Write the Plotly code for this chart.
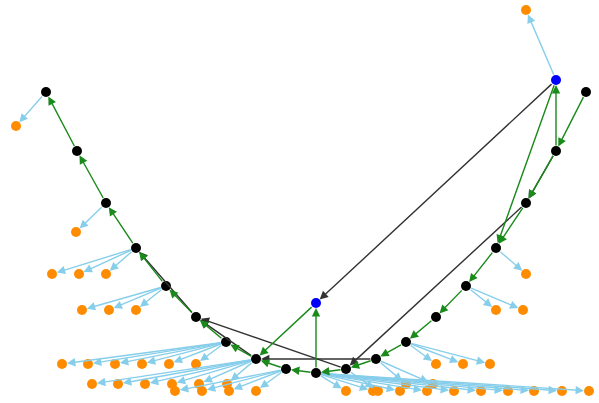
import plotly.graph_objects as go

# ---- node data (pixel-like layout coordinates) ----
path_x = [46, 77, 106, 136, 166, 196, 226, 256, 286, 316, 346, 376, 406, 436, 466, 496, 526, 556, 586]
path_y = [92, 151, 203, 248, 286, 317, 342, 359, 369, 373, 369, 359, 342, 317, 286, 248, 203, 151, 92]

blue_x = [316, 556]
blue_y = [303, 80]

orange_x = [16, 76, 52, 79, 106, 82, 109, 136,
            62, 88, 115, 142, 169, 196,
            92, 118, 145, 172, 199, 227,
            175, 202, 229, 256,
            526, 526, 496, 523, 436, 463, 490, 406, 433,
            346, 373, 400, 427, 454, 481, 508, 534, 562, 589, 378]
orange_y = [126, 232, 274, 274, 274, 310, 310, 310,
            364, 364, 364, 364, 364, 364,
            384, 384, 384, 384, 384, 384,
            391, 391, 391, 391,
            10, 274, 310, 310, 364, 364, 364, 384, 384,
            391, 391, 391, 391, 391, 391, 391, 391, 391, 391, 391]
# parent of each orange node: ("P", i) path node or ("B", i) blue node
orange_parent = [("P", 0), ("P", 2), ("P", 3), ("P", 3), ("P", 3), ("P", 4), ("P", 4), ("P", 4),
                 ("P", 6), ("P", 6), ("P", 6), ("P", 6), ("P", 6), ("P", 6),
                 ("P", 7), ("P", 7), ("P", 7), ("P", 7), ("P", 7), ("P", 7),
                 ("P", 8), ("P", 8), ("P", 8), ("P", 8),
                 ("B", 1), ("P", 15), ("P", 14), ("P", 14), ("P", 12), ("P", 12), ("P", 12), ("P", 11), ("P", 11),
                 ("P", 9), ("P", 9), ("P", 9), ("P", 9), ("P", 9), ("P", 9), ("P", 9), ("P", 9), ("P", 9), ("P", 9), ("P", 10)]

# green edges (source -> target)
green_edges = [(("P", i + 1), ("P", i)) for i in range(0, 9)] + \
              [(("P", i + 1), ("P", i)) for i in range(9, 18)] + \
              [(("P", 9), ("B", 0)), (("B", 0), ("P", 7)),
               (("P", 17), ("B", 1)), (("B", 1), ("P", 15))]

# black edges
black_edges = [(("B", 1), ("B", 0)), (("P", 16), ("P", 10)), (("P", 11), ("P", 7)),
               (("P", 10), ("P", 5)), (("P", 7), ("P", 5)), (("P", 5), ("P", 3)),
               (("P", 17), ("P", 16))]


def pos(n):
    kind, i = n
    if kind == "P":
        return path_x[i], path_y[i]
    return blue_x[i], blue_y[i]


annotations = []


def add_edge(src, dst, color, width):
    sx, sy = src
    tx, ty = dst
    annotations.append(dict(
        x=tx, y=ty, ax=sx, ay=sy, xref="x", yref="y", axref="x", ayref="y",
        text="", showarrow=True, arrowhead=2, arrowsize=1.2, arrowwidth=width,
        arrowcolor=color, standoff=5, startstandoff=4))


for k, par in enumerate(orange_parent):
    add_edge(pos(par), (orange_x[k], orange_y[k]), "#87ceeb", 1.4)
for s, t in black_edges:
    add_edge(pos(s), pos(t), "#333333", 1.4)
for s, t in green_edges:
    add_edge(pos(s), pos(t), "#1a8a1a", 1.4)

fig = go.Figure()
fig.add_trace(go.Scatter(x=orange_x, y=orange_y, mode="markers",
                         marker=dict(size=10, color="#ff8c00"), hoverinfo="skip"))
fig.add_trace(go.Scatter(x=path_x, y=path_y, mode="markers",
                         marker=dict(size=10, color="black"), hoverinfo="skip"))
fig.add_trace(go.Scatter(x=blue_x, y=blue_y, mode="markers",
                         marker=dict(size=10, color="#0000ff"), hoverinfo="skip"))

fig.update_layout(
    width=599, height=403, margin=dict(l=0, r=0, t=0, b=0),
    showlegend=False, plot_bgcolor="white", paper_bgcolor="white",
    annotations=annotations,
    xaxis=dict(range=[0, 599], visible=False),
    yaxis=dict(range=[403, 0], visible=False),
)
fig.write_html("out.html", config={"displayModeBar": False},
               post_script="document.body.style.margin='0';document.body.style.overflow='hidden';")
